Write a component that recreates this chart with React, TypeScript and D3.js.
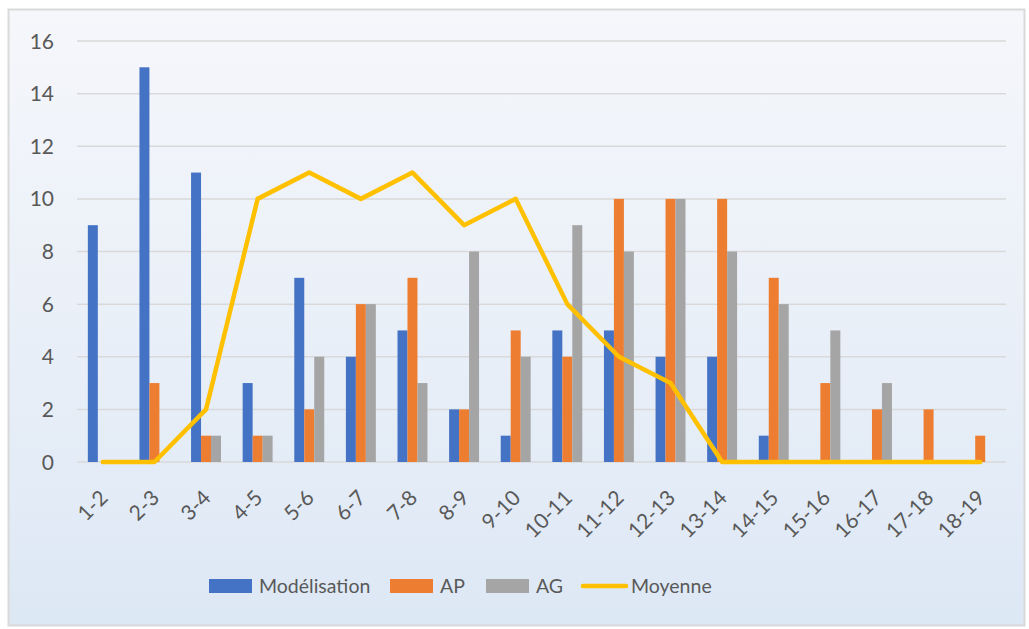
import React from "react";
import * as d3 from "d3";

const categories = ["1-2", "2-3", "3-4", "4-5", "5-6", "6-7", "7-8", "8-9", "9-10", "10-11", "11-12", "12-13", "13-14", "14-15", "15-16", "16-17", "17-18", "18-19"];
const modelisation = [9, 15, 11, 3, 7, 4, 5, 2, 1, 5, 5, 4, 4, 1, 0, 0, 0, 0];
const ap = [0, 3, 1, 1, 2, 6, 7, 2, 5, 4, 10, 10, 10, 7, 3, 2, 2, 1];
const ag = [0, 0, 1, 1, 4, 6, 3, 8, 4, 9, 8, 10, 8, 6, 5, 3, 0, 0];
const moyenne = [0, 0, 2, 10, 11, 10, 11, 9, 10, 6, 4, 3, 0, 0, 0, 0, 0, 0];
const yTicks = [0, 2, 4, 6, 8, 10, 12, 14, 16];

const barSeries = [
  { name: "Modélisation", values: modelisation, color: "#4472c4" },
  { name: "AP", values: ap, color: "#ed7d31" },
  { name: "AG", values: ag, color: "#a5a5a5" },
];
const lineColor = "#ffc000";

const W = 1029;
const H = 629;
const plot = { left: 77, right: 1006, top: 41, bottom: 462 };
const font = "Lato, 'Open Sans', sans-serif";
const textColor = "#595959";

export default function App() {
  const x = d3.scaleBand<string>().domain(categories).range([plot.left, plot.right]).paddingInner(0).paddingOuter(0);
  const y = d3.scaleLinear().domain([0, 16]).range([plot.bottom, plot.top]);
  const group = d3.scaleBand<string>()
    .domain(barSeries.map((s) => s.name))
    .range([0, x.bandwidth() * 0.58])
    .padding(0);
  const groupOffset = (x.bandwidth() - group.range()[1]) / 2;

  const line = d3.line<number>()
    .x((_, i) => x(categories[i])! + x.bandwidth() / 2)
    .y((d) => y(d));

  // legend item positions
  const legendItems = [
    { name: "Modélisation", color: barSeries[0].color, x: 209, kind: "bar" },
    { name: "AP", color: barSeries[1].color, x: 390, kind: "bar" },
    { name: "AG", color: barSeries[2].color, x: 486, kind: "bar" },
    { name: "Moyenne", color: lineColor, x: 581, kind: "line" },
  ];

  return (
    <svg width={W} height={H} style={{ position: "absolute", left: 0, top: 0, display: "block" }}>
      <defs>
        <linearGradient id="bg" x1="0" y1="0" x2="0" y2="1">
          <stop offset="0%" stopColor="#f6f7fb" />
          <stop offset="100%" stopColor="#dde8f5" />
        </linearGradient>
      </defs>
      <rect x={0} y={0} width={W} height={H} fill="#ffffff" />
      <rect x={8.5} y={9.5} width={1016} height={616} fill="url(#bg)" stroke="#d9d9d9" strokeWidth={2} />

      {yTicks.map((t) => (
        <g key={t}>
          <line x1={plot.left} x2={plot.right} y1={y(t)} y2={y(t)} stroke="#d9d9d9" strokeWidth={1.5} />
          <text x={54} y={y(t)} dy="0.36em" textAnchor="end" fontFamily={font} fontSize={21} fill={textColor}>
            {t}
          </text>
        </g>
      ))}

      {barSeries.map((s) => (
        <g key={s.name}>
          {s.values.map((v, i) =>
            v > 0 ? (
              <rect
                key={i}
                x={x(categories[i])! + groupOffset + group(s.name)!}
                y={y(v)}
                width={group.bandwidth()}
                height={y(0) - y(v)}
                fill={s.color}
              />
            ) : null
          )}
        </g>
      ))}

      <path d={line(moyenne) ?? ""} fill="none" stroke={lineColor} strokeWidth={4.5} strokeLinejoin="round" strokeLinecap="round" />

      {categories.map((c) => (
        <text
          key={c}
          transform={`translate(${x(c)! + x.bandwidth() / 2 + 1},${494}) rotate(-45)`}
          textAnchor="end"
          dy="0.35em"
          fontFamily={font}
          fontSize={21}
          fill={textColor}
        >
          {c}
        </text>
      ))}

      {legendItems.map((it) => (
        <g key={it.name} transform={`translate(${it.x},586)`}>
          {it.kind === "bar" ? (
            <rect x={0} y={-7} width={43} height={14} fill={it.color} />
          ) : (
            <line x1={2} x2={45} y1={0} y2={0} stroke={it.color} strokeWidth={4.5} strokeLinecap="round" />
          )}
          <text x={50} y={0} dy="0.35em" fontFamily={font} fontSize={19.5} fill={textColor}>
            {it.name}
          </text>
        </g>
      ))}
    </svg>
  );
}
